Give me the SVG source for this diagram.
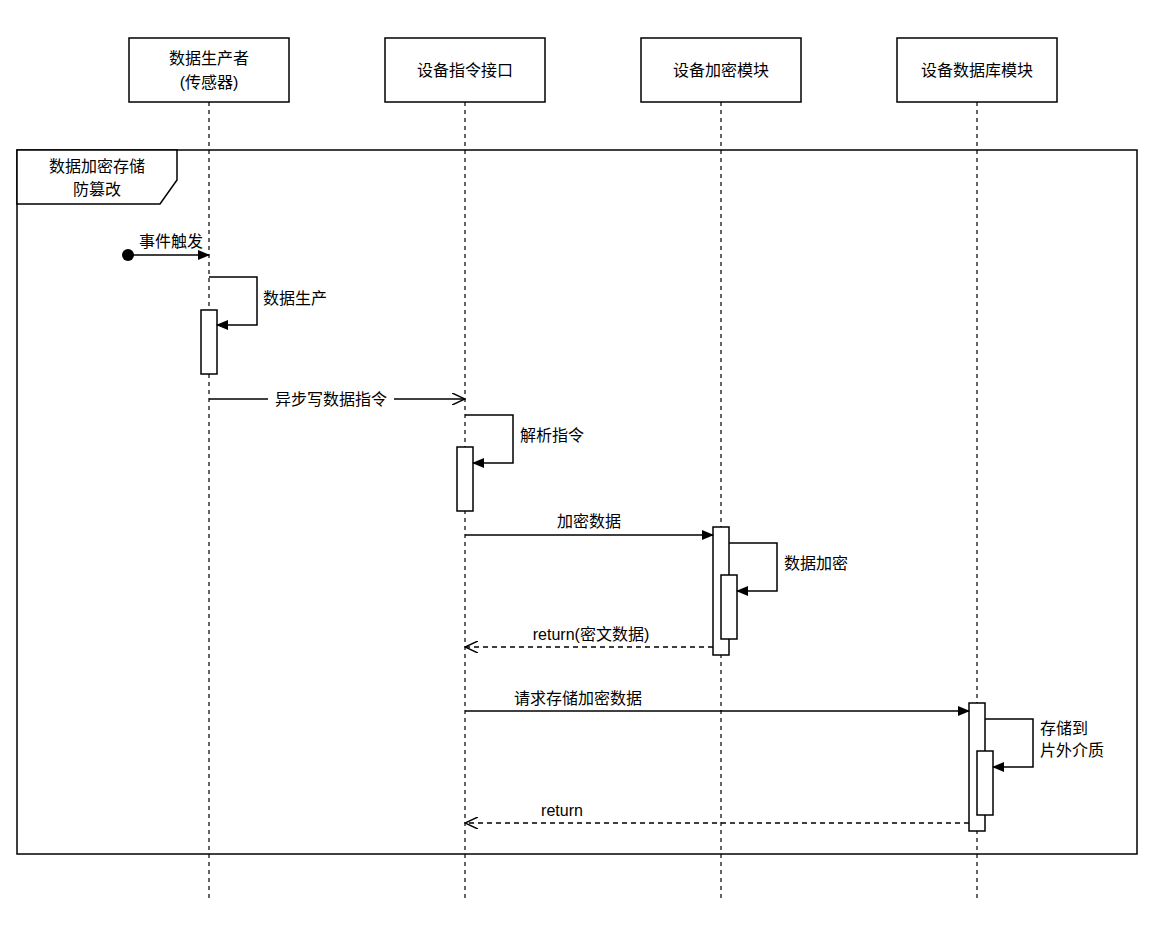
<svg xmlns="http://www.w3.org/2000/svg" width="1165" height="933" viewBox="0 0 1165 933">
<style>
text{font-family:"Liberation Sans","Noto Sans CJK SC",sans-serif;font-size:16px;fill:#000}
.b{fill:#fff;stroke:#000;stroke-width:1.5}
.ll{stroke:#000;stroke-width:1.2;stroke-dasharray:4,4;fill:none}
.m{stroke:#000;stroke-width:1.5;fill:none}
.d{stroke:#000;stroke-width:1.5;fill:none;stroke-dasharray:5,4}
.c{text-anchor:middle}
</style>
<defs>
<marker id="f" markerWidth="12" markerHeight="10" refX="11" refY="5" orient="auto" markerUnits="userSpaceOnUse"><path d="M0,0L12,5L0,10Z" fill="#000"/></marker>
<marker id="o" markerWidth="14" markerHeight="12" refX="13" refY="6" orient="auto" markerUnits="userSpaceOnUse"><path d="M0,0L13,6L0,12" fill="none" stroke="#000" stroke-width="1.5"/></marker>
</defs>
<rect width="1165" height="933" fill="#fff"/>
<g id="lifelines">
<line class="ll" x1="209" y1="102" x2="209" y2="900"/>
<line class="ll" x1="465" y1="102" x2="465" y2="900"/>
<line class="ll" x1="721" y1="102" x2="721" y2="900"/>
<line class="ll" x1="977" y1="102" x2="977" y2="900"/>
</g>
<g id="p1"><rect class="b" x="129" y="38" width="160" height="64"/><text class="c" x="209" y="64">数据生产者</text><text class="c" x="209" y="88">(传感器)</text></g>
<g id="p2"><rect class="b" x="385" y="38" width="160" height="64"/><text class="c" x="465" y="76">设备指令接口</text></g>
<g id="p3"><rect class="b" x="641" y="38" width="160" height="64"/><text class="c" x="721" y="76">设备加密模块</text></g>
<g id="p4"><rect class="b" x="897" y="38" width="160" height="64"/><text class="c" x="977" y="76">设备数据库模块</text></g>
<g id="frame">
<rect x="17" y="150" width="1120" height="704" fill="none" stroke="#000" stroke-width="1.5"/>
<path d="M17,150H177V180L160,204H17Z" fill="#fff" stroke="#000" stroke-width="1.5"/>
<text class="c" x="97" y="172">数据加密存储</text><text class="c" x="97" y="195">防篡改</text>
</g>
<g id="activations">
<rect class="b" x="201" y="310" width="16" height="64"/>
<rect class="b" x="457" y="447" width="16" height="64"/>
<rect class="b" x="713" y="527" width="16" height="128"/>
<rect class="b" x="721" y="575" width="16" height="64"/>
<rect class="b" x="969" y="703" width="16" height="128"/>
<rect class="b" x="977" y="751" width="16" height="64"/>
</g>
<g id="connectors">
<circle cx="128" cy="255" r="6" fill="#000"/>
<line class="m" x1="128" y1="255" x2="209" y2="255" marker-end="url(#f)"/>
<path class="m" d="M209,277H257V325H217" marker-end="url(#f)"/>
<line class="m" x1="209" y1="399" x2="465" y2="399" marker-end="url(#o)"/>
<path class="m" d="M465,415H513V463H473" marker-end="url(#f)"/>
<line class="m" x1="465" y1="535" x2="713" y2="535" marker-end="url(#f)"/>
<path class="m" d="M729,543H777V591H737" marker-end="url(#f)"/>
<line class="d" x1="713" y1="647" x2="465" y2="647" marker-end="url(#o)"/>
<line class="m" x1="465" y1="711" x2="969" y2="711" marker-end="url(#f)"/>
<path class="m" d="M985,719H1033V767H993" marker-end="url(#f)"/>
<line class="d" x1="969" y1="823" x2="465" y2="823" marker-end="url(#o)"/>
</g>
<g id="labels">
<text class="c" x="171" y="247">事件触发</text>
<text x="263" y="304">数据生产</text>
<rect x="268" y="390" width="126" height="18" fill="#fff"/>
<text class="c" x="331" y="405">异步写数据指令</text>
<text x="520" y="441">解析指令</text>
<text class="c" x="589" y="527">加密数据</text>
<text x="784" y="569">数据加密</text>
<text class="c" x="591" y="640">return(密文数据)</text>
<text class="c" x="578" y="704">请求存储加密数据</text>
<text x="1040" y="734">存储到</text>
<text x="1040" y="756">片外介质</text>
<text class="c" x="562" y="816">return</text>
</g>
</svg>
